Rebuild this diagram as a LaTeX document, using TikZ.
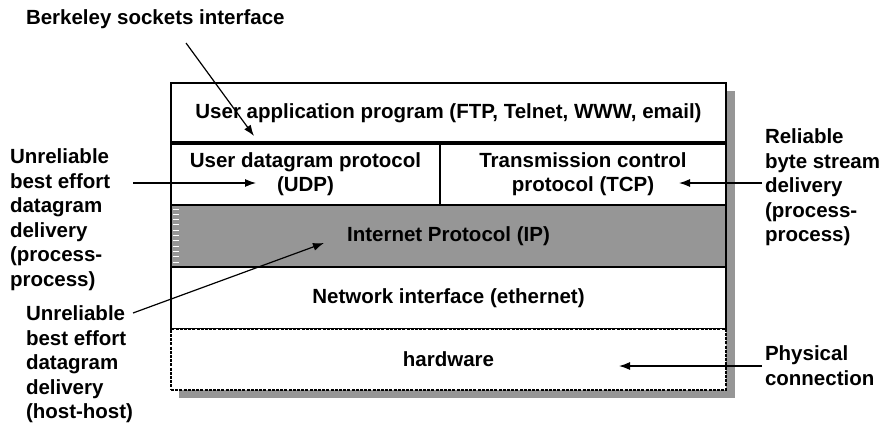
\documentclass[tikz,border=0pt]{standalone}
\usepackage{fontspec}
\setmainfont{Liberation Sans}
\usetikzlibrary{arrows.meta}
\definecolor{shadegray}{HTML}{969696}
\tikzset{
  layer/.style={draw=black, line width=1.4pt, fill=white, inner sep=0pt, outer sep=0pt,
    minimum width=555pt, align=center, font=\txtfont},
  lbl/.style={inner sep=0pt, outer sep=0pt, align=left, font=\txtfont},
  arr/.style={line width=1.2pt, -{Latex[length=11pt,width=8pt]}}
}
\newcommand{\txtfont}{\bfseries\fontsize{20.5pt}{24.5pt}\selectfont}
\begin{document}
\begin{tikzpicture}[x=1pt,y=-1pt]
\useasboundingbox (0,0) rectangle (888,428);
% shadow
\fill[shadegray] (179,91) rectangle (735,398);
% layers
\node[layer, minimum height=60pt] (app) at (448.5,113) {User application program (FTP, Telnet, WWW, email)};
\node[layer, minimum width=269pt, minimum height=62pt] (udp) at (305.5,174) {User datagram protocol\\(UDP)};
\node[layer, minimum width=286pt, minimum height=62pt] (tcp) at (583,174) {Transmission control\\protocol (TCP)};
\node[layer, minimum height=62pt, fill=shadegray] (ip) at (448.5,236) {Internet Protocol (IP)};
\foreach \i in {0,...,10} \draw[white, line width=1pt] (173,{209+\i*5.3}) -- (179,{209+\i*5.3});
\node[layer, minimum height=62pt] (net) at (448.5,298) {Network interface (ethernet)};
\node[layer, minimum height=61pt, line width=1.4pt, dash pattern=on 3pt off 1.2pt] (hw) at (448.5,359.5) {hardware};
\draw[line width=4pt] (app.south west) -- (app.south east);
% labels
\node[lbl, anchor=north west] (berk) at (26,10) {Berkeley sockets interface};
\node[lbl, anchor=north west] (udpl) at (10,149) {Unreliable\\best effort\\datagram\\delivery\\(process-\\process)};
\node[lbl, anchor=north west] (ipl) at (26,306) {Unreliable\\best effort\\datagram\\delivery\\(host-host)};
\node[lbl, anchor=north west] (tcpl) at (765,129) {Reliable\\byte stream\\delivery\\(process-\\process)};
\node[lbl, anchor=north west] (phyl) at (765,346) {Physical\\connection};
% connector end points
\coordinate (b1) at (186,43);  \coordinate (b2) at (254,136);
\coordinate (u1) at (133,183); \coordinate (u2) at (256,183);
\coordinate (t1) at (762,183); \coordinate (t2) at (679,183);
\coordinate (i1) at (133,313); \coordinate (i2) at (324,243);
\coordinate (p1) at (762,366); \coordinate (p2) at (619,366);
\draw[arr] (b1) -- (b2);
\draw[arr] (u1) -- (u2);
\draw[arr] (t1) -- (t2);
\draw[arr] (i1) -- (i2);
\draw[arr] (p1) -- (p2);
\end{tikzpicture}
\end{document}
